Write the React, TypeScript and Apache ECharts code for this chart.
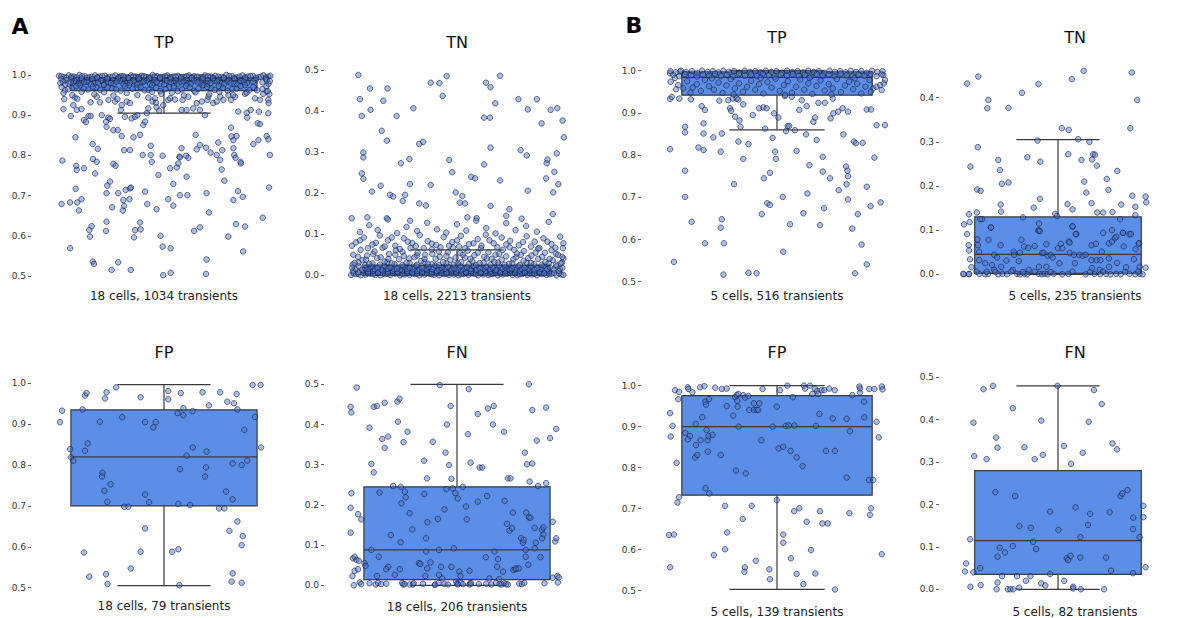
import React, { useEffect, useRef } from 'react';
import * as echarts from 'echarts';

// Box statistics: [lower whisker, Q1, median, Q3, upper whisker]
const A_TP_box = [0.905, 0.961, 0.986, 0.993, 1.0];
const A_TN_box = [0.0, 0.0, 0.005, 0.025, 0.062];
const A_FP_box = [0.505, 0.70, 0.82, 0.935, 0.997];
const A_FN_box = [0.0, 0.014, 0.088, 0.245, 0.5];
const B_TP_box = [0.86, 0.942, 0.984, 0.997, 1.0];
const B_TN_box = [0.0, 0.002, 0.045, 0.13, 0.305];
const B_FP_box = [0.503, 0.733, 0.9, 0.976, 1.0];
const B_FN_box = [0.0, 0.035, 0.115, 0.28, 0.48];

// Jittered points: [jitter offset, value]
const A_TP_pts = [
[-0.375,0.94],[-0.378,0.915],[-0.35,0.898],[-0.341,0.925],[-0.328,0.913],[-0.335,0.944],[-0.326,0.941],[-0.31,0.915],[-0.301,0.888],[-0.293,0.883],
[-0.284,0.898],[-0.276,0.898],[-0.276,0.932],[-0.253,0.946],[-0.241,0.932],[-0.234,0.9],[-0.218,0.884],[-0.216,0.871],[-0.209,0.894],[-0.203,0.891],
[-0.209,0.938],[-0.19,0.863],[-0.184,0.934],[-0.175,0.94],[-0.162,0.913],[-0.159,0.925],[-0.147,0.896],[-0.14,0.934],[-0.128,0.93],[-0.122,0.892],
[-0.109,0.896],[-0.1,0.9],[-0.078,0.876],[-0.071,0.884],[-0.065,0.905],[-0.059,0.917],[-0.059,0.944],[-0.043,0.934],[-0.034,0.942],[-0.03,0.931],
[-0.028,0.92],[-0.018,0.911],[-0.003,0.925],[0.016,0.938],[0.023,0.942],[0.041,0.939],[0.066,0.913],[0.07,0.938],[0.085,0.913],[0.091,0.946],
[0.11,0.917],[0.123,0.93],[0.135,0.913],[0.142,0.934],[0.154,0.9],[0.163,0.938],[0.167,0.946],[0.185,0.93],[0.198,0.934],[0.211,0.946],
[0.223,0.938],[0.242,0.95],[0.252,0.938],[0.267,0.946],[0.279,0.909],[0.311,0.906],[0.313,0.894],[0.305,0.953],[0.326,0.913],[0.342,0.942],
[0.352,0.88],[0.357,0.909],[0.361,0.938],[0.373,0.953],[0.386,0.959],[0.392,0.938],[0.392,0.905],[0.393,0.93],[0.396,0.952],
[-0.382,0.787],[-0.333,0.845],[-0.33,0.774],[-0.328,0.764],[-0.301,0.768],[-0.268,0.828],[-0.249,0.816],[-0.267,0.791],[-0.253,0.784],[-0.259,0.755],
[-0.19,0.779],[-0.182,0.774],[-0.174,0.863],[-0.159,0.848],[-0.15,0.813],[-0.128,0.813],[-0.115,0.845],[-0.09,0.851],[-0.08,0.801],[-0.05,0.824],
[-0.046,0.784],[-0.05,0.801],[-0.021,0.751],[-0.005,0.799],[0.023,0.768],[0.035,0.729],[0.048,0.77],[0.054,0.78],[0.058,0.797],[0.066,0.818],
[0.06,0.795],[0.083,0.799],[0.085,0.747],[0.091,0.794],[0.119,0.851],[0.123,0.815],[0.135,0.826],[0.158,0.819],[0.175,0.807],[0.198,0.801],
[0.204,0.832],[0.211,0.789],[0.219,0.813],[0.217,0.765],[0.227,0.737],[0.252,0.869],[0.254,0.847],[0.261,0.838],[0.261,0.818],[0.264,0.801],
[0.273,0.848],[0.269,0.794],[0.288,0.784],[0.289,0.78],[0.336,0.828],[0.355,0.838],[0.361,0.878],[0.386,0.848],[0.392,0.84],[0.398,0.801],
[-0.385,0.679],[-0.353,0.683],[-0.332,0.717],[-0.326,0.683],[-0.32,0.663],[-0.31,0.691],[-0.216,0.706],[-0.213,0.725],[-0.203,0.735],[-0.195,0.671],
[-0.172,0.706],[-0.155,0.663],[-0.153,0.689],[-0.15,0.674],[-0.144,0.714],[-0.128,0.718],[-0.124,0.72],[-0.13,0.691],[-0.071,0.71],[-0.063,0.679],
[-0.028,0.666],[0.016,0.691],[0.035,0.675],[0.06,0.701],[0.088,0.701],[0.16,0.706],[0.169,0.658],[0.261,0.689],[0.278,0.711],[0.296,0.697],[0.395,0.72],
[-0.353,0.569],[-0.281,0.614],[-0.278,0.598],[-0.272,0.624],[-0.216,0.635],[-0.218,0.612],[-0.113,0.596],[-0.09,0.633],[-0.088,0.616],[-0.109,0.614],
[-0.013,0.6],[-0.005,0.573],[0.025,0.569],[0.113,0.612],[0.135,0.621],[0.242,0.598],[0.271,0.629],[0.305,0.623],[0.298,0.561],[0.371,0.645],
[-0.268,0.536],[-0.263,0.53],[-0.197,0.515],[-0.172,0.534],[-0.125,0.515],[-0.003,0.502],[0.025,0.508],[0.158,0.505],[0.16,0.541],
[-0.395,0.998],[-0.376,0.995],[-0.358,0.999],[-0.339,0.996],[-0.318,1.0],[-0.297,0.997],[-0.281,0.994],[-0.259,0.999],[-0.243,0.996],[-0.222,0.998],
[-0.204,0.995],[-0.183,0.999],[-0.161,0.997],[-0.147,0.994],[-0.124,0.999],[-0.106,0.996],[-0.085,0.998],[-0.067,0.995],[-0.043,1.0],[-0.026,0.997],
[-0.004,0.994],[0.013,0.999],[0.035,0.996],[0.052,0.998],[0.076,0.995],[0.094,0.999],[0.113,0.997],[0.137,0.994],[0.154,0.999],[0.176,0.996],
[0.193,0.998],[0.215,0.995],[0.234,1.0],[0.256,0.997],[0.273,0.994],[0.295,0.999],[0.316,0.996],[0.334,0.998],[0.357,0.995],[0.374,0.999],[0.392,0.996],
[-0.386,0.997],[-0.367,0.993],[-0.348,0.996],[-0.329,0.994],[-0.308,0.997],[-0.289,0.993],[-0.27,0.996],[-0.25,0.994],[-0.232,0.997],[-0.213,0.993],
[-0.193,0.996],[-0.172,0.994],[-0.152,0.997],[-0.135,0.993],[-0.115,0.996],[-0.096,0.994],[-0.076,0.997],[-0.055,0.993],[-0.035,0.996],[-0.015,0.994],
[0.004,0.997],[0.024,0.993],[0.044,0.996],[0.064,0.994],[0.085,0.997],[0.104,0.993],[0.125,0.996],[0.146,0.994],[0.165,0.997],[0.185,0.993],
[0.204,0.996],[0.224,0.994],[0.245,0.997],[0.264,0.993],[0.284,0.996],[0.305,0.994],[0.325,0.997],[0.346,0.993],[0.365,0.996],[0.383,0.994],[0.4,0.998],
[-0.386,0.99],[-0.367,0.987],[-0.348,0.992],[-0.327,0.988],[-0.309,0.991],[-0.288,0.986],[-0.27,0.99],[-0.251,0.993],[-0.232,0.987],[-0.213,0.99],
[-0.192,0.986],[-0.172,0.991],[-0.153,0.988],[-0.133,0.992],[-0.115,0.987],[-0.094,0.99],[-0.075,0.986],[-0.055,0.991],[-0.035,0.988],[-0.015,0.992],
[0.004,0.987],[0.024,0.99],[0.044,0.986],[0.064,0.991],[0.085,0.988],[0.104,0.992],[0.125,0.987],[0.145,0.99],[0.165,0.986],[0.184,0.991],
[0.205,0.988],[0.225,0.992],[0.245,0.987],[0.265,0.99],[0.286,0.986],[0.306,0.991],[0.345,0.988],[0.383,0.99],
[-0.38,0.984],[-0.36,0.979],[-0.337,0.985],[-0.312,0.98],[-0.288,0.983],[-0.262,0.979],[-0.237,0.986],[-0.212,0.981],[-0.189,0.978],[-0.165,0.985],
[-0.14,0.98],[-0.114,0.984],[-0.089,0.979],[-0.064,0.986],[-0.04,0.981],[-0.014,0.978],[0.012,0.985],[0.037,0.98],[0.062,0.983],[0.087,0.979],
[0.112,0.986],[0.138,0.981],[0.162,0.978],[0.188,0.985],[0.212,0.98],[0.238,0.984],[0.263,0.979],[0.288,0.985],[0.312,0.98],[0.335,0.984],[0.37,0.982],[0.386,0.987],
[-0.39,0.98],[-0.372,0.976],[-0.35,0.982],[-0.322,0.978],[-0.3,0.983],[-0.275,0.977],[-0.248,0.981],[-0.225,0.975],[-0.2,0.98],[-0.178,0.984],
[-0.152,0.977],[-0.128,0.981],[-0.1,0.976],[-0.078,0.983],[-0.052,0.978],[-0.027,0.982],[0.0,0.976],[0.025,0.981],[0.05,0.977],[0.074,0.984],
[0.1,0.978],[0.126,0.982],[0.15,0.975],[0.175,0.98],[0.2,0.984],[0.226,0.977],[0.25,0.981],[0.276,0.976],[0.3,0.983],[0.393,0.978],
[-0.372,0.962],[-0.345,0.968],[-0.316,0.974],[-0.285,0.964],[-0.254,0.969],[-0.226,0.975],[-0.196,0.967],[-0.163,0.961],[-0.132,0.974],[-0.103,0.968],
[-0.073,0.962],[-0.044,0.975],[-0.014,0.96],[0.021,0.97],[0.052,0.96],[0.083,0.973],[0.113,0.961],[0.146,0.974],[0.177,0.967],[0.206,0.973],
[0.239,0.961],[0.272,0.966],[0.304,0.975],[0.336,0.97],
[-0.385,0.97],[-0.36,0.965],[-0.33,0.972],[-0.302,0.966],[-0.268,0.971],[-0.24,0.963],[-0.212,0.969],[-0.18,0.964],[-0.146,0.972],[-0.118,0.966],
[-0.088,0.97],[-0.058,0.963],[-0.03,0.968],[0.006,0.965],[0.037,0.972],[0.068,0.964],[0.097,0.969],[0.13,0.966],[0.162,0.971],[0.19,0.963],
[0.222,0.968],[0.256,0.965],[0.288,0.972],[0.32,0.962],
[-0.378,0.955],[-0.345,0.95],[-0.31,0.958],[-0.262,0.952],[-0.225,0.957],[-0.19,0.949],[-0.14,0.955],[-0.1,0.95],[-0.045,0.958],[-0.01,0.953],
[0.03,0.956],[0.075,0.949],[0.118,0.957],[0.17,0.952],[0.208,0.958],[0.26,0.95],[0.31,0.956],[0.35,0.962],
[0.37,0.965],[0.385,0.972],[0.398,0.985],[0.39,0.96]
];

const A_TN_pts = [
[-0.371,0.488],[-0.365,0.429],[-0.358,0.388],[-0.352,0.299],[-0.352,0.287],[-0.358,0.248],[-0.352,0.235],[-0.327,0.455],[-0.325,0.403],[-0.32,0.204],
[-0.287,0.218],[-0.283,0.352],[-0.277,0.425],[-0.264,0.328],[-0.261,0.455],[-0.252,0.196],[-0.24,0.192],[-0.227,0.388],[-0.211,0.273],[-0.204,0.181],
[-0.195,0.196],[-0.179,0.283],[-0.177,0.222],[-0.164,0.407],[-0.142,0.32],[-0.127,0.325],[-0.142,0.175],[-0.117,0.17],[-0.099,0.469],[-0.099,0.22],
[-0.066,0.468],[-0.054,0.437],[-0.039,0.485],[-0.029,0.281],[-0.018,0.251],[-0.005,0.202],[0.011,0.177],[0.02,0.193],[0.03,0.175],[0.053,0.24],
[0.068,0.236],[0.102,0.27],[0.102,0.384],[0.109,0.469],[0.124,0.384],[0.126,0.458],[0.126,0.311],[0.126,0.169],[0.144,0.419],[0.162,0.486],
[0.162,0.231],[0.197,0.161],[0.231,0.429],[0.239,0.305],[0.262,0.292],[0.266,0.206],[0.266,0.404],[0.3,0.429],[0.318,0.37],[0.335,0.236],
[0.337,0.273],[0.34,0.282],[0.352,0.403],[0.36,0.149],[0.362,0.202],[0.366,0.252],[0.375,0.297],[0.377,0.407],[0.381,0.222],[0.397,0.377],[0.402,0.336],
[-0.396,0.139],[-0.337,0.141],[-0.264,0.139],[-0.176,0.133],[0.039,0.141],[0.074,0.139],[0.185,0.145],[0.243,0.138],
[-0.398,0.001],[-0.38,0.003],[-0.362,0.0],[-0.343,0.002],[-0.325,0.004],[-0.306,0.001],[-0.288,0.0],[-0.27,0.003],[-0.251,0.001],[-0.233,0.004],
[-0.214,0.0],[-0.196,0.002],[-0.178,0.001],[-0.159,0.003],[-0.141,0.0],[-0.122,0.002],[-0.104,0.004],[-0.086,0.001],[-0.067,0.0],[-0.049,0.003],
[-0.03,0.001],[-0.012,0.002],[0.006,0.0],[0.025,0.003],[0.043,0.001],[0.061,0.004],[0.08,0.0],[0.098,0.002],[0.117,0.001],[0.135,0.003],
[0.153,0.0],[0.172,0.002],[0.19,0.004],[0.209,0.001],[0.227,0.0],[0.245,0.003],[0.264,0.001],[0.282,0.002],[0.301,0.0],[0.319,0.003],
[0.337,0.001],[0.356,0.004],[0.374,0.0],[0.392,0.002],[0.4,0.001],
[-0.389,0.005],[-0.371,0.004],[-0.352,0.006],[-0.334,0.005],[-0.315,0.003],[-0.297,0.006],[-0.279,0.005],[-0.26,0.004],[-0.242,0.006],[-0.223,0.005],
[-0.205,0.003],[-0.187,0.006],[-0.168,0.005],[-0.15,0.004],[-0.131,0.006],[-0.113,0.005],[-0.095,0.003],[-0.076,0.006],[-0.058,0.005],[-0.039,0.004],
[-0.021,0.006],[-0.003,0.005],[0.016,0.003],[0.034,0.006],[0.052,0.005],[0.071,0.004],[0.089,0.006],[0.108,0.005],[0.126,0.003],[0.144,0.006],
[0.163,0.005],[0.181,0.004],[0.2,0.006],[0.218,0.005],[0.236,0.003],[0.255,0.006],[0.273,0.005],[0.291,0.004],[0.31,0.006],[0.328,0.005],
[0.347,0.003],[0.365,0.006],[0.383,0.005],
[-0.39,0.01],[-0.371,0.008],[-0.352,0.012],[-0.334,0.009],[-0.315,0.011],[-0.297,0.007],[-0.279,0.012],[-0.26,0.009],[-0.242,0.011],[-0.223,0.008],
[-0.205,0.012],[-0.187,0.01],[-0.168,0.007],[-0.15,0.011],[-0.131,0.009],[-0.113,0.012],[-0.095,0.008],[-0.076,0.01],[-0.058,0.012],[-0.039,0.007],
[-0.021,0.011],[-0.003,0.009],[0.016,0.012],[0.034,0.008],[0.052,0.01],[0.071,0.012],[0.089,0.007],[0.108,0.011],[0.126,0.009],[0.144,0.012],
[0.163,0.008],[0.181,0.01],[0.2,0.012],[0.218,0.007],[0.236,0.011],[0.255,0.009],[0.273,0.012],[0.31,0.008],[0.347,0.01],[0.383,0.011],
[-0.381,0.015],[-0.357,0.014],[-0.333,0.016],[-0.309,0.015],[-0.285,0.014],[-0.261,0.016],[-0.237,0.015],[-0.213,0.014],[-0.189,0.016],[-0.165,0.015],
[-0.141,0.014],[-0.117,0.016],[-0.093,0.015],[-0.069,0.014],[-0.045,0.016],[-0.021,0.015],[0.003,0.014],[0.027,0.016],[0.051,0.015],[0.075,0.014],
[0.099,0.016],[0.123,0.015],[0.147,0.014],[0.171,0.016],[0.195,0.015],[0.219,0.014],[0.243,0.016],[0.267,0.015],[0.291,0.014],[0.315,0.016],
[0.339,0.015],[0.363,0.014],[0.387,0.016],
[-0.394,0.019],[-0.37,0.022],[-0.345,0.017],[-0.322,0.021],[-0.298,0.018],[-0.274,0.023],[-0.25,0.019],[-0.226,0.016],[-0.202,0.021],[-0.178,0.018],
[-0.154,0.023],[-0.13,0.017],[-0.106,0.02],[-0.082,0.024],[-0.058,0.018],[-0.034,0.021],[-0.01,0.016],[0.014,0.022],[0.038,0.019],[0.062,0.023],
[0.086,0.017],[0.11,0.021],[0.134,0.018],[0.158,0.024],[0.182,0.019],[0.206,0.016],[0.23,0.022],[0.254,0.018],[0.278,0.021],[0.302,0.017],
[0.326,0.023],[0.35,0.019],[0.374,0.022],[0.396,0.018],
[-0.392,0.026],[-0.37,0.031],[-0.345,0.025],[-0.318,0.029],[-0.29,0.026],[-0.262,0.032],[-0.235,0.027],[-0.205,0.025],[-0.178,0.03],[-0.15,0.026],
[-0.122,0.032],[-0.095,0.027],[-0.068,0.025],[-0.04,0.03],[-0.012,0.026],[0.016,0.032],[0.044,0.027],[0.072,0.025],[0.1,0.03],[0.126,0.026],
[0.154,0.031],[0.18,0.026],[0.208,0.03],[0.236,0.025],[0.262,0.031],[0.29,0.027],[0.318,0.025],[0.345,0.03],[0.372,0.026],[0.395,0.031],
[-0.385,0.03],[-0.355,0.037],[-0.33,0.028],[-0.3,0.042],[-0.272,0.033],[-0.245,0.029],[-0.218,0.039],[-0.19,0.031],[-0.16,0.044],[-0.135,0.035],
[-0.11,0.028],[-0.08,0.04],[-0.052,0.032],[-0.025,0.037],[0.003,0.029],[0.03,0.043],[0.058,0.034],[0.085,0.03],[0.112,0.041],[0.14,0.033],
[0.168,0.038],[0.195,0.028],[0.222,0.044],[0.25,0.035],[0.278,0.03],[0.305,0.04],[0.332,0.032],[0.36,0.037],[0.39,0.029],[0.4,0.041],
[-0.372,0.045],[-0.342,0.038],[-0.315,0.052],[-0.287,0.044],[-0.258,0.04],[-0.232,0.05],[-0.205,0.057],[-0.18,0.041],[-0.15,0.048],[-0.122,0.04],
[-0.093,0.052],[-0.065,0.045],[-0.035,0.056],[-0.005,0.043],[0.022,0.05],[0.05,0.04],[0.078,0.055],[0.102,0.045],[0.13,0.04],[0.158,0.052],
[0.185,0.046],[0.212,0.039],[0.24,0.05],[0.268,0.042],[0.295,0.055],[0.32,0.045],[0.348,0.04],[0.372,0.052],[0.396,0.045],
[-0.39,0.05],[-0.362,0.062],[-0.338,0.048],[-0.31,0.058],[-0.28,0.067],[-0.255,0.052],[-0.23,0.061],[-0.2,0.047],[-0.175,0.066],[-0.148,0.055],
[-0.12,0.05],[-0.095,0.063],[-0.068,0.058],[-0.04,0.047],[-0.015,0.068],[0.012,0.054],[0.04,0.06],[0.065,0.049],[0.09,0.066],[0.118,0.056],
[0.145,0.05],[0.172,0.062],[0.198,0.068],[0.225,0.053],[0.252,0.059],[0.28,0.048],[0.305,0.065],[0.33,0.055],[0.355,0.061],[0.38,0.05],[0.398,0.066],[0.008,0.07],
[-0.395,0.072],[-0.365,0.085],[-0.335,0.066],[-0.305,0.079],[-0.272,0.07],[-0.245,0.092],[-0.215,0.064],[-0.185,0.082],[-0.155,0.071],[-0.125,0.066],
[-0.095,0.077],[-0.062,0.068],[-0.03,0.072],[0.0,0.085],[0.03,0.066],[0.062,0.078],[0.092,0.072],[0.122,0.085],[0.152,0.068],[0.185,0.075],
[0.215,0.062],[0.248,0.081],[0.278,0.07],[0.31,0.066],[0.34,0.082],[0.37,0.067],[0.4,0.078],
[-0.38,0.08],[-0.35,0.092],[-0.318,0.075],[-0.29,0.097],[-0.26,0.085],[-0.232,0.072],[-0.2,0.09],[-0.168,0.079],[-0.14,0.098],[-0.11,0.083],
[-0.078,0.074],[-0.05,0.093],[-0.018,0.081],[0.015,0.096],[0.045,0.076],[0.078,0.088],[0.108,0.099],[0.138,0.078],[0.168,0.092],[0.2,0.084],
[0.232,0.073],[0.262,0.095],[0.292,0.082],[0.325,0.09],[0.355,0.076],[0.388,0.094],
[-0.365,0.105],[-0.33,0.122],[-0.298,0.11],[-0.26,0.136],[-0.225,0.103],[-0.19,0.118],[-0.15,0.108],[-0.112,0.128],[-0.075,0.112],[-0.04,0.104],
[0.0,0.124],[0.035,0.109],[0.072,0.133],[0.11,0.115],[0.145,0.102],[0.185,0.127],[0.22,0.11],[0.26,0.12],[0.3,0.106],[0.345,0.13]
];

const A_FP_pts = [
[-0.391,0.905],[-0.383,0.933],[-0.353,0.839],[-0.35,0.819],[-0.341,0.811],[-0.306,0.936],[-0.297,0.97],[-0.291,0.976],[-0.297,0.835],[-0.287,0.853],
[-0.301,0.586],[-0.281,0.527],[-0.241,0.906],[-0.231,0.781],[-0.233,0.772],[-0.224,0.737],[-0.222,0.963],[-0.216,0.978],[-0.213,0.71],[-0.201,0.753],
[-0.218,0.533],[-0.212,0.509],[-0.18,0.99],[-0.157,0.917],[-0.149,0.698],[-0.134,0.698],[-0.125,0.547],[-0.088,0.966],[-0.088,0.588],[-0.071,0.905],
[-0.071,0.728],[-0.071,0.645],[-0.056,0.709],[-0.04,0.892],[-0.031,0.905],[0.016,0.981],[0.016,0.961],[0.031,0.588],[0.051,0.927],[0.054,0.705],
[0.054,0.594],[0.06,0.79],[0.063,0.976],[0.058,0.506],[0.073,0.939],[0.073,0.922],[0.085,0.823],[0.098,0.702],[0.107,0.932],[0.108,0.843],
[0.145,0.978],[0.154,0.772],[0.158,0.794],[0.16,0.833],[0.169,0.946],[0.207,0.694],[0.211,0.978],[0.227,0.694],[0.233,0.735],[0.238,0.955],
[0.246,0.639],[0.254,0.515],[0.258,0.804],[0.258,0.716],[0.258,0.535],[0.263,0.951],[0.273,0.974],[0.276,0.936],[0.276,0.662],[0.292,0.8],
[0.292,0.604],[0.296,0.626],[0.292,0.512],[0.302,0.886],[0.313,0.811],[0.333,0.996],[0.342,0.918],[0.363,0.996],[0.365,0.843]
];

const A_FN_pts = [
[-0.4,0.444],[-0.397,0.43],[-0.377,0.492],[-0.397,0.229],[-0.4,0.193],[-0.4,0.131],[-0.372,0.177],[-0.36,0.164],[-0.391,0.067],[-0.385,0.071],
[-0.378,0.063],[-0.369,0.061],[-0.393,0.023],[-0.385,0.036],[-0.372,0.04],[-0.366,0.007],[-0.388,0.0],[-0.348,0.055],[-0.344,0.048],[-0.329,0.392],
[-0.322,0.302],[-0.313,0.281],[-0.322,0.088],[-0.313,0.444],[-0.301,0.446],[-0.301,0.023],[-0.294,0.071],[-0.291,0.231],[-0.281,0.364],[-0.272,0.342],
[-0.272,0.454],[-0.259,0.37],[-0.259,0.046],[-0.266,0.04],[-0.249,0.125],[-0.24,0.247],[-0.234,0.026],[-0.224,0.457],[-0.216,0.464],[-0.222,0.407],
[-0.211,0.245],[-0.209,0.204],[-0.212,0.107],[-0.215,0.04],[-0.201,0.356],[-0.196,0.233],[-0.193,0.219],[-0.186,0.382],[-0.178,0.179],[-0.168,0.139],
[-0.203,0.002],[-0.166,0.002],[-0.143,0.055],[-0.138,0.053],[-0.124,0.31],[-0.123,0.227],[-0.119,0.023],[-0.116,0.117],[-0.116,0.084],[-0.113,0.266],
[-0.111,0.157],[-0.112,0.042],[-0.1,0.057],[-0.091,0.357],[-0.083,0.001],[-0.072,0.165],[-0.068,0.088],[-0.068,0.026],[-0.065,0.498],[-0.06,0.046],
[-0.055,0.017],[-0.047,0.189],[-0.043,0.33],[-0.04,0.239],[-0.038,0.4],[-0.03,0.299],[-0.024,0.446],[-0.021,0.265],[-0.021,0.046],[-0.016,0.241],
[-0.012,0.092],[-0.006,0.229],[-0.003,0.009],[0.003,0.216],[0.009,0.034],[0.013,0.023],[0.022,0.245],[0.034,0.196],[0.037,0.164],[0.041,0.376],
[0.044,0.488],[0.051,0.305],[0.047,0.036],[0.049,0.005],[0.078,0.208],[0.078,0.426],[0.085,0.293],[0.095,0.293],[0.108,0.07],[0.113,0.222],
[0.116,0.44],[0.122,0.017],[0.135,0.4],[0.138,0.446],[0.141,0.084],[0.151,0.046],[0.154,0.065],[0.158,0.015],[0.173,0.034],[0.177,0.382],
[0.179,0.21],[0.188,0.153],[0.191,0.266],[0.197,0.136],[0.201,0.266],[0.207,0.142],[0.21,0.181],[0.212,0.038],[0.22,0.04],[0.222,0.042],
[0.232,0.042],[0.241,0.117],[0.248,0.106],[0.251,0.113],[0.255,0.33],[0.258,0.088],[0.258,0.071],[0.26,0.181],[0.263,0.301],[0.268,0.051],
[0.27,0.169],[0.27,0.5],[0.273,0.258],[0.276,0.168],[0.283,0.436],[0.283,0.303],[0.292,0.143],[0.292,0.092],[0.296,0.106],[0.3,0.36],
[0.305,0.247],[0.314,0.07],[0.319,0.138],[0.32,0.117],[0.325,0.144],[0.325,0.127],[0.329,0.005],[0.335,0.442],[0.335,0.254],[0.35,0.366],
[0.36,0.158],[0.36,0.019],[0.369,0.109],[0.373,0.117],[0.373,0.389],[0.377,0.023],[0.383,0.02],[0.379,0.007],
[-0.36,0.003],[-0.329,0.005],[-0.306,0.002],[-0.297,0.006],[-0.285,0.003],[-0.266,0.004],[-0.206,0.006],[-0.197,0.003],[-0.178,0.002],[-0.163,0.005],
[-0.128,0.004],[-0.082,0.002],[-0.069,0.006],[-0.047,0.003],[-0.034,0.002],[0.0,0.004],[0.003,0.002],[0.016,0.006],[0.022,0.003],[0.047,0.002],
[0.053,0.005],[0.082,0.003],[0.11,0.004],[0.129,0.002],[0.147,0.006],[0.16,0.003],[0.168,0.002],[0.178,0.005],[0.185,0.003],[0.191,0.002],
[0.234,0.004],[0.244,0.003],[0.253,0.006]
];

const B_TP_pts = [
[-0.393,0.933],[-0.387,0.938],[-0.359,0.934],[-0.317,0.932],[-0.338,0.867],[-0.338,0.854],[-0.393,0.814],[-0.338,0.763],[-0.338,0.701],[-0.314,0.642],
[-0.379,0.547],[-0.277,0.916],[-0.265,0.907],[-0.27,0.875],[-0.27,0.851],[-0.289,0.818],[-0.27,0.812],[-0.265,0.591],[-0.234,0.842],[-0.212,0.929],
[-0.203,0.851],[-0.207,0.808],[-0.203,0.648],[-0.207,0.628],[-0.195,0.591],[-0.197,0.517],[-0.179,0.93],[-0.173,0.911],[-0.169,0.905],[-0.163,0.934],
[-0.154,0.891],[-0.148,0.934],[-0.142,0.932],[-0.138,0.882],[-0.134,0.867],[-0.124,0.92],[-0.142,0.832],[-0.124,0.791],[-0.158,0.731],[-0.105,0.826],
[-0.105,0.521],[-0.089,0.895],[-0.075,0.52],[-0.066,0.911],[-0.05,0.913],[-0.038,0.911],[-0.048,0.745],[-0.056,0.66],[-0.044,0.863],[-0.036,0.686],
[-0.026,0.682],[-0.026,0.758],[-0.016,0.841],[-0.011,0.899],[-0.007,0.808],[-0.004,0.791],[0.005,0.889],[0.021,0.701],[0.023,0.571],[0.029,0.94],
[0.033,0.857],[0.039,0.869],[0.045,0.869],[0.048,0.636],[0.054,0.938],[0.066,0.859],[0.072,0.81],[0.082,0.907],[0.091,0.93],[0.097,0.662],
[0.107,0.849],[0.109,0.916],[0.112,0.709],[0.119,0.776],[0.134,0.879],[0.14,0.889],[0.146,0.836],[0.152,0.924],[0.158,0.634],[0.168,0.796],
[0.168,0.761],[0.173,0.674],[0.176,0.924],[0.195,0.745],[0.197,0.887],[0.205,0.934],[0.207,0.899],[0.225,0.903],[0.227,0.717],[0.241,0.911],
[0.244,0.849],[0.254,0.773],[0.256,0.731],[0.259,0.763],[0.261,0.75],[0.261,0.695],[0.261,0.903],[0.277,0.626],[0.283,0.832],[0.29,0.828],
[0.287,0.52],[0.297,0.66],[0.315,0.829],[0.311,0.588],[0.33,0.908],[0.33,0.725],[0.33,0.541],[0.346,0.908],[0.344,0.679],[0.358,0.794],
[0.366,0.871],[0.381,0.688],[0.397,0.871],
[0.354,0.958],[0.366,0.962],[0.379,0.966],[0.393,0.97],[0.385,0.954],[0.397,0.978],[0.391,0.99],
[-0.393,0.994],[-0.391,0.974],[-0.371,0.956],[-0.363,0.966],[-0.375,0.983],[-0.357,0.998],
[-0.392,0.999],[-0.372,0.996],[-0.353,1.0],[-0.334,0.997],[-0.313,0.999],[-0.294,0.995],[-0.275,1.0],[-0.255,0.997],[-0.236,0.999],[-0.216,0.996],
[-0.197,1.0],[-0.177,0.997],[-0.158,0.999],[-0.138,0.995],[-0.119,1.0],[-0.099,0.997],[-0.08,0.999],[-0.06,0.996],[-0.041,1.0],[-0.021,0.997],
[-0.002,0.999],[0.018,0.995],[0.037,1.0],[0.057,0.997],[0.076,0.999],[0.096,0.996],[0.115,1.0],[0.135,0.997],[0.154,0.999],[0.174,0.995],
[0.193,1.0],[0.213,0.997],[0.232,0.999],[0.252,0.996],[0.271,1.0],[0.291,0.997],[0.31,0.999],[0.33,0.995],[0.349,1.0],[0.369,0.997],[0.388,0.999],
[-0.382,0.99],[-0.36,0.987],[-0.338,0.992],[-0.316,0.989],[-0.294,0.986],[-0.272,0.991],[-0.25,0.988],[-0.228,0.993],[-0.206,0.987],[-0.184,0.99],
[-0.162,0.986],[-0.14,0.992],[-0.118,0.988],[-0.096,0.991],[-0.074,0.987],[-0.052,0.993],[-0.03,0.989],[-0.008,0.986],[0.014,0.991],[0.036,0.988],
[0.058,0.992],[0.08,0.987],[0.102,0.99],[0.124,0.986],[0.146,0.992],[0.168,0.988],[0.19,0.991],[0.212,0.987],[0.234,0.993],[0.256,0.989],
[0.278,0.986],[0.3,0.991],[0.322,0.988],[0.344,0.992],[0.366,0.987],[0.385,0.991],
[-0.33,0.975],[-0.31,0.96],[-0.295,0.968],[-0.28,0.952],[-0.265,0.978],[-0.25,0.963],[-0.232,0.955],[-0.215,0.972],[-0.2,0.947],[-0.186,0.965],
[-0.17,0.98],[-0.155,0.958],[-0.14,0.97],[-0.125,0.95],[-0.11,0.962],[-0.095,0.976],[-0.08,0.955],[-0.066,0.968],[-0.05,0.946],[-0.035,0.973],
[-0.02,0.96],[-0.005,0.981],[0.01,0.952],[0.025,0.966],[0.04,0.975],[0.055,0.948],[0.07,0.962],[0.085,0.979],[0.1,0.955],[0.115,0.97],
[0.13,0.945],[0.145,0.964],[0.16,0.977],[0.175,0.953],[0.19,0.968],[0.205,0.958],[0.22,0.98],[0.235,0.949],[0.25,0.965],[0.265,0.974],
[0.28,0.956],[0.295,0.969],[0.31,0.946],[0.325,0.962],[0.34,0.978],[-0.318,0.948],[-0.24,0.982],[-0.16,0.944],[-0.06,0.983],[0.03,0.943],
[0.12,0.983],[0.2,0.944],[0.285,0.982],[-0.345,0.958],[0.345,0.95]
];

const B_TN_pts = [
[-0.382,0.432],[-0.335,0.448],[-0.297,0.376],[-0.293,0.395],[-0.208,0.377],[-0.151,0.411],[-0.082,0.431],[0.058,0.442],[0.108,0.461],[0.31,0.457],
[0.332,0.395],[-0.337,0.288],[-0.368,0.244],[0.016,0.331],[0.045,0.327],[-0.086,0.303],[0.085,0.306],[0.132,0.3],[0.304,0.331],[-0.251,0.259],
[-0.244,0.236],[-0.129,0.265],[-0.074,0.255],[0.043,0.272],[0.099,0.259],[0.148,0.272],[0.156,0.271],[0.143,0.26],[0.163,0.246],[0.249,0.234],
[-0.236,0.205],[-0.208,0.208],[-0.34,0.192],[-0.325,0.189],[0.11,0.21],[0.119,0.185],[0.205,0.216],[0.212,0.191],[0.312,0.178],[0.368,0.176],
[0.371,0.163],[-0.241,0.158],[-0.239,0.142],[-0.102,0.151],[-0.076,0.171],[0.04,0.159],[0.061,0.147],[0.141,0.161],[0.266,0.158],[0.325,0.153],
[-0.374,0.136],[-0.341,0.14],[-0.371,0.118],[-0.395,0.113],[-0.382,0.091],[-0.375,0.066],[-0.374,0.054],[-0.37,0.034],[-0.364,0.016],[-0.396,0.0],
[-0.374,0.001],[-0.012,0.137],[-0.004,0.132],[0.165,0.14],[0.19,0.14],[0.229,0.141],[0.325,0.134],[0.368,0.015],
[-0.319,0.125],[-0.282,0.106],[-0.147,0.129],[-0.082,0.099],[0.061,0.108],[0.077,0.091],[0.227,0.1],[0.261,0.125],[0.273,0.094],[0.3,0.091],[0.341,0.07],
[-0.327,0.125],[-0.282,0.106],[-0.241,0.066],[-0.292,0.078],[-0.339,0.079],[-0.336,0.066],[-0.331,0.051],[-0.331,0.032],[-0.306,0.025],[-0.277,0.021],
[-0.268,0.044],[-0.256,0.038],[-0.268,0.01],[-0.217,0.031],[-0.186,0.051],[-0.184,0.044],[-0.16,0.049],[-0.165,0.03],[-0.154,0.078],[-0.143,0.063],
[-0.125,0.06],[-0.098,0.064],[-0.08,0.115],[-0.082,0.099],[-0.076,0.098],[-0.067,0.048],[-0.061,0.049],[-0.049,0.068],[-0.043,0.042],[-0.031,0.044],
[-0.022,0.038],[0.0,0.059],[0.012,0.069],[0.018,0.059],[0.045,0.074],[0.049,0.072],[0.061,0.109],[0.074,0.091],[0.049,0.048],[0.067,0.044],
[0.089,0.044],[0.104,0.042],[0.116,0.044],[0.141,0.066],[0.159,0.069],[0.141,0.032],[0.162,0.032],[0.178,0.032],[0.184,0.051],[0.19,0.094],
[0.214,0.07],[0.227,0.074],[0.239,0.082],[0.245,0.085],[0.214,0.036],[0.248,0.026],[0.276,0.063],[0.273,0.094],[0.306,0.091],[0.326,0.057],
[0.339,0.07],[0.319,0.034],[0.343,0.017],[0.286,0.016],[0.214,0.017],[0.175,0.01],[0.143,0.014],[0.071,0.025],[0.006,0.025],[-0.049,0.017],
[-0.08,0.017],[-0.123,0.01],[-0.19,0.01],[-0.239,0.017],
[-0.398,0.001],[-0.374,0.0],[-0.331,0.001],[-0.306,0.0],[-0.294,0.001],[-0.251,0.0],[-0.233,0.001],[-0.214,0.0],[-0.172,0.001],[-0.159,0.0],
[-0.141,0.001],[-0.129,0.0],[-0.08,0.001],[-0.067,0.0],[-0.055,0.001],[-0.043,0.0],[-0.018,0.001],[0.018,0.0],[0.043,0.001],[0.116,0.0],
[0.153,0.001],[0.178,0.0],[0.202,0.001],[0.221,0.0],[0.245,0.001],[0.263,0.0],[0.3,0.001],[0.325,0.0],[0.343,0.001],[0.355,0.0],
[-0.343,0.006],[-0.3,0.006],[-0.263,0.005],[-0.196,0.006],[-0.147,0.005],[-0.098,0.006],[-0.031,0.005],[0.061,0.006],[0.135,0.005],[0.19,0.006],
[0.282,0.005],[0.337,0.006]
];

const B_FP_pts = [
[-0.393,0.933],[-0.384,0.902],[-0.391,0.876],[-0.375,0.989],[-0.36,0.985],[-0.363,0.967],[-0.369,0.812],[-0.36,0.728],[-0.366,0.715],[-0.397,0.636],
[-0.379,0.637],[-0.393,0.557],[-0.337,0.885],[-0.328,0.996],[-0.326,0.992],[-0.32,0.877],[-0.328,0.869],[-0.311,0.984],[-0.299,0.907],[-0.298,0.855],
[-0.301,0.825],[-0.293,0.831],[-0.283,0.996],[-0.281,0.867],[-0.275,0.923],[-0.267,0.999],[-0.263,0.75],[-0.263,0.961],[-0.261,0.954],[-0.25,0.967],
[-0.259,0.892],[-0.255,0.867],[-0.252,0.877],[-0.254,0.839],[-0.249,0.737],[-0.237,0.88],[-0.232,0.587],[-0.227,0.995],[-0.207,0.831],[-0.203,0.992],
[-0.185,0.993],[-0.185,0.95],[-0.191,0.707],[-0.191,0.601],[-0.183,0.642],[-0.161,0.927],[-0.154,0.972],[-0.148,0.977],[-0.146,0.963],[-0.145,0.949],
[-0.142,0.98],[-0.141,0.9],[-0.151,0.793],[-0.126,0.675],[-0.124,0.977],[-0.118,0.971],[-0.115,0.786],[-0.118,0.557],[-0.12,0.546],[-0.105,0.975],
[-0.102,0.941],[-0.093,0.707],[-0.085,0.957],[-0.085,0.941],[-0.078,0.573],[-0.075,0.941],[-0.065,0.957],[-0.069,0.941],[-0.058,0.867],[-0.053,0.992],
[-0.028,0.552],[-0.026,0.528],[-0.016,0.9],[-0.001,0.949],[-0.001,0.721],[0.006,0.847],[0.011,0.989],[0.023,0.851],[0.023,0.637],[0.023,0.617],
[0.032,0.902],[0.038,1.0],[0.043,0.903],[0.05,0.841],[0.051,0.579],[0.058,0.972],[0.064,0.903],[0.063,0.694],[0.072,0.825],[0.072,0.541],
[0.082,0.701],[0.094,0.804],[0.097,0.516],[0.099,1.0],[0.103,0.993],[0.109,0.668],[0.121,1.0],[0.125,0.599],[0.13,0.98],[0.14,0.992],
[0.141,0.542],[0.143,0.902],[0.148,0.987],[0.152,0.98],[0.156,0.931],[0.158,0.694],[0.164,0.989],[0.167,0.664],[0.174,0.989],[0.18,0.841],
[0.186,0.664],[0.192,0.993],[0.205,0.92],[0.212,0.989],[0.213,0.841],[0.213,0.503],[0.256,0.919],[0.256,0.776],[0.266,0.689],[0.268,0.889],
[0.277,0.977],[0.303,0.998],[0.305,0.993],[0.305,0.983],[0.32,0.961],[0.321,0.923],[0.339,0.992],[0.339,0.77],[0.342,0.685],[0.346,0.701],
[0.354,0.77],[0.358,0.992],[0.366,0.912],[0.374,0.874],[0.385,0.998],[0.388,0.991],[0.385,0.589]
];

const B_FN_pts = [
[-0.313,0.472],[-0.273,0.48],[-0.355,0.393],[-0.19,0.427],[-0.07,0.398],[-0.002,0.48],[0.151,0.47],[0.184,0.437],[0.129,0.395],[-0.352,0.314],
[-0.3,0.307],[-0.26,0.358],[-0.254,0.334],[-0.141,0.335],[-0.098,0.307],[-0.064,0.317],[0.025,0.338],[0.055,0.296],[0.104,0.322],[0.229,0.344],
[0.248,0.33],[-0.263,0.229],[-0.18,0.22],[-0.033,0.183],[0.074,0.193],[0.135,0.178],[0.217,0.182],[0.263,0.22],[0.27,0.226],[0.292,0.234],
[0.359,0.197],[0.359,0.17],[0.316,0.169],[0.315,0.142],[0.343,0.123],[-0.162,0.149],[-0.114,0.145],[0.002,0.14],[0.126,0.152],[0.094,0.123],
[-0.104,0.112],[-0.092,0.095],[-0.369,0.118],[-0.245,0.098],[-0.223,0.087],[-0.19,0.102],[-0.254,0.077],[0.037,0.073],[0.043,0.069],[0.053,0.079],
[0.094,0.075],[0.202,0.075],[0.223,0.044],[0.315,0.038],[0.368,0.052],[-0.386,0.061],[-0.391,0.042],[-0.355,0.04],[-0.327,0.05],[-0.235,0.031],
[-0.172,0.031],[-0.116,0.031],[-0.135,0.02],[-0.033,0.036],[0.026,0.02],[-0.254,0.016],[-0.368,0.006],[-0.325,0.01],[-0.258,0.0],[-0.211,0.0],
[-0.2,0.0],[-0.188,0.0],[-0.163,0.004],[-0.071,0.014],[-0.053,0.009],[0.064,0.006],[0.064,0.002],[0.096,0.0],[0.194,0.0]
];

const BOX_FILL = '#5b8ee6';
const LINE = '#3a3a3a';
const FONT = 'DejaVu Sans';

const panels = [
  { title: 'TP', caption: '18 cells, 1034 transients', pts: A_TP_pts, box: A_TP_box, ymin: 0.5, ymax: 1.0, left: 31, width: 266, yTop: 75, yBot: 276, cx: 164, titleY: 42, capY: 296 },
  { title: 'TN', caption: '18 cells, 2213 transients', pts: A_TN_pts, box: A_TN_box, ymin: 0.0, ymax: 0.5, left: 324, width: 266, yTop: 70, yBot: 275.3, cx: 457, titleY: 42.5, capY: 296 },
  { title: 'TP', caption: '5 cells, 516 transients', pts: B_TP_pts, box: B_TP_box, ymin: 0.5, ymax: 1.0, left: 641, width: 272, yTop: 70.7, yBot: 281.7, cx: 777, titleY: 37.7, capY: 296 },
  { title: 'TN', caption: '5 cells, 235 transients', pts: B_TN_pts, box: B_TN_box, ymin: 0.0, ymax: 0.4, left: 939, width: 272, yTop: 97.7, yBot: 274.3, cx: 1075, titleY: 37.7, capY: 296 },
  { title: 'FP', caption: '18 cells, 79 transients', pts: A_FP_pts, box: A_FP_box, ymin: 0.5, ymax: 1.0, left: 31, width: 266, yTop: 383.3, yBot: 587.7, cx: 164, titleY: 352.3, capY: 606 },
  { title: 'FN', caption: '18 cells, 206 transients', pts: A_FN_pts, box: A_FN_box, ymin: 0.0, ymax: 0.5, left: 324, width: 266, yTop: 384.3, yBot: 585.3, cx: 457, titleY: 352.3, capY: 606.5 },
  { title: 'FP', caption: '5 cells, 139 transients', pts: B_FP_pts, box: B_FP_box, ymin: 0.5, ymax: 1.0, left: 641, width: 272, yTop: 385.7, yBot: 590.7, cx: 777, titleY: 352.3, capY: 611.7 },
  { title: 'FN', caption: '5 cells, 82 transients', pts: B_FN_pts, box: B_FN_box, ymin: 0.0, ymax: 0.5, left: 939, width: 272, yTop: 377.3, yBot: 589.3, cx: 1075, titleY: 352.3, capY: 611.7 },
];

function renderBox(params: any, api: any) {
  const lw = api.value(1), q1 = api.value(2), med = api.value(3), q3 = api.value(4), hw = api.value(5);
  const a = api.coord([-0.35, q3]);
  const b = api.coord([0.35, q1]);
  const m = api.coord([0, med]);
  const l = api.coord([0, lw]);
  const h = api.coord([0, hw]);
  const c0 = api.coord([-0.175, lw])[0];
  const c1 = api.coord([0.175, lw])[0];
  const ls = { stroke: LINE, lineWidth: 1.2 };
  return {
    type: 'group',
    children: [
      { type: 'line', shape: { x1: m[0], y1: b[1], x2: m[0], y2: l[1] }, style: ls },
      { type: 'line', shape: { x1: m[0], y1: a[1], x2: m[0], y2: h[1] }, style: ls },
      { type: 'line', shape: { x1: c0, y1: l[1], x2: c1, y2: l[1] }, style: ls },
      { type: 'line', shape: { x1: c0, y1: h[1], x2: c1, y2: h[1] }, style: ls },
      { type: 'rect', shape: { x: a[0], y: a[1], width: b[0] - a[0], height: b[1] - a[1] }, style: { fill: BOX_FILL, stroke: LINE, lineWidth: 1.2 } },
      { type: 'line', shape: { x1: a[0], y1: m[1], x2: b[0], y2: m[1] }, style: ls },
    ],
  };
}

export default function App() {
  const ref = useRef<HTMLDivElement>(null);
  useEffect(() => {
    document.body.style.margin = '0';
    if (!ref.current) return;
    const chart = echarts.init(ref.current, undefined, { renderer: 'svg' });
    const grid: any[] = [], xAxis: any[] = [], yAxis: any[] = [], series: any[] = [], graphic: any[] = [];
    panels.forEach((p, i) => {
      grid.push({ left: p.left, top: p.yTop, width: p.width, height: p.yBot - p.yTop, containLabel: false });
      xAxis.push({ gridIndex: i, type: 'value', min: -0.5, max: 0.5, show: false, axisLine: { onZero: false } });
      yAxis.push({
        gridIndex: i, type: 'value', min: p.ymin, max: p.ymax, interval: 0.1, position: 'left',
        axisLine: { show: false, onZero: false },
        axisTick: { show: true, length: 3, lineStyle: { color: '#333', width: 0.8 } },
        axisLabel: { fontSize: 9, color: '#333', margin: 5, fontFamily: FONT, formatter: (v: number) => v.toFixed(1) },
        splitLine: { show: false },
      });
      series.push({
        type: 'custom', xAxisIndex: i, yAxisIndex: i, renderItem: renderBox, clip: false, z: 1,
        encode: { x: 0, y: [1, 2, 3, 4, 5] },
        data: [[0, ...p.box]],
      });
      series.push({
        type: 'scatter', xAxisIndex: i, yAxisIndex: i, clip: false, z: 2,
        symbolSize: 5.5,
        itemStyle: { color: 'rgba(75,115,205,0.58)', borderColor: 'rgba(20,30,55,0.85)', borderWidth: 0.9 },
        data: p.pts,
      });
      graphic.push({ type: 'text', x: p.cx, y: p.titleY, style: { text: p.title, fontSize: 16, fontFamily: FONT, fill: '#111', textAlign: 'center', textVerticalAlign: 'middle' } });
      graphic.push({ type: 'text', x: p.cx, y: p.capY, style: { text: p.caption, fontSize: 12, fontFamily: FONT, fill: '#222', textAlign: 'center', textVerticalAlign: 'middle' } });
    });
    graphic.push({ type: 'text', x: 20, y: 26.5, style: { text: 'A', fontSize: 22, fontWeight: 'bold', fontFamily: FONT, fill: '#000', textAlign: 'center', textVerticalAlign: 'middle' } });
    graphic.push({ type: 'text', x: 634, y: 25, style: { text: 'B', fontSize: 22, fontWeight: 'bold', fontFamily: FONT, fill: '#000', textAlign: 'center', textVerticalAlign: 'middle' } });
    chart.setOption({ animation: false, backgroundColor: '#fff', grid, xAxis, yAxis, series, graphic });
    return () => chart.dispose();
  }, []);
  return <div ref={ref} style={{ width: 1177, height: 618 }} />;
}
